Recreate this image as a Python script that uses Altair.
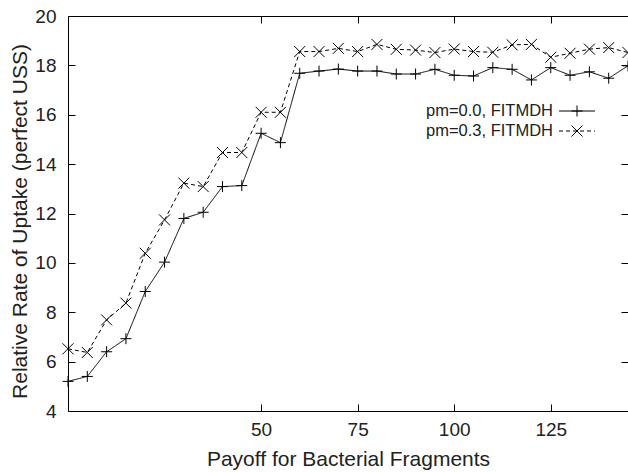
import altair as alt
import pandas as pd

# ---- data ----
payoff = [0, 5, 10, 15, 20, 25, 30, 35, 40, 45, 50, 55, 60, 65, 70, 75, 80, 85, 90, 95,
          100, 105, 110, 115, 120, 125, 130, 135, 140, 145]
pm00 = [5.20, 5.40, 6.40, 6.93, 8.84, 10.03, 11.80, 12.05, 13.09, 13.13, 15.25, 14.87, 17.68, 17.77,
        17.85, 17.77, 17.77, 17.65, 17.65, 17.84, 17.60, 17.57, 17.91, 17.84, 17.41, 17.91, 17.60,
        17.74, 17.48, 17.98]
pm03 = [6.52, 6.37, 7.69, 8.37, 10.39, 11.74, 13.23, 13.09, 14.47, 14.47, 16.10, 16.10, 18.56, 18.56,
        18.69, 18.56, 18.85, 18.65, 18.62, 18.52, 18.66, 18.56, 18.53, 18.83, 18.85, 18.33, 18.49,
        18.66, 18.72, 18.52]
series_names = ["pm=0.0, FITMDH", "pm=0.3, FITMDH"]
x_ticks = [50, 75, 100, 125]
y_ticks = [4, 6, 8, 10, 12, 14, 16, 18, 20]

df = pd.DataFrame({
    "payoff": payoff + payoff,
    "rate": pm00 + pm03,
    "series": [series_names[0]] * len(payoff) + [series_names[1]] * len(payoff),
})

FONT = "Liberation Sans"
TXT = "#222222"
PLUS = "M-1,0L1,0M0,-1L0,1"
CROSS = "M-1,-1L1,1M-1,1L1,-1"

xscale = alt.Scale(domain=[0, 145], nice=False, zero=False)
yscale = alt.Scale(domain=[4, 20], nice=False, zero=False)

common = dict(grid=False, domainColor="black", tickColor="black", labelColor=TXT,
              titleColor=TXT, labelFont=FONT, titleFont=FONT, labelFontSize=19,
              titleFontSize=21, titleFontWeight="normal", tickSize={"expr": "-7"},
              domainWidth=1, tickWidth=1, labelFlush=False, labelOverlap=False)

x_bottom = alt.Axis(values=x_ticks, orient="bottom", title="Payoff for Bacterial Fragments",
                    labelPadding=16, titleY=54, titleBaseline="alphabetic", **common)
y_left = alt.Axis(values=y_ticks, orient="left", title="Relative Rate of Uptake (perfect USS)",
                  labelPadding=19, titleX=-42, titleY=205, titleBaseline="alphabetic",
                  titleAngle=270, **common)
x_top = alt.Axis(values=x_ticks, orient="top", labels=False, title="", **common)
y_right = alt.Axis(values=y_ticks, orient="right", labels=False, title="", domain=False, **common)

dash_scale = alt.Scale(domain=series_names, range=[[1, 0], [4, 3]])
shape_scale = alt.Scale(domain=series_names, range=[PLUS, CROSS])

base = alt.Chart(df)
lines = base.mark_line(color="black", strokeWidth=1).encode(
    x=alt.X("payoff:Q", scale=xscale, axis=x_bottom),
    y=alt.Y("rate:Q", scale=yscale, axis=y_left),
    strokeDash=alt.StrokeDash("series:N", scale=dash_scale, legend=None),
    detail="series:N",
)
points = base.mark_point(filled=False, color="black", strokeWidth=1, size=121, opacity=1).encode(
    x=alt.X("payoff:Q", scale=xscale, axis=x_top),
    y=alt.Y("rate:Q", scale=yscale, axis=y_right),
    shape=alt.Shape("series:N", scale=shape_scale, legend=None),
)

# ---- manual legend (label left, sample right, gnuplot style) ----
leg_layers = []
rows_y = [95, 115]
dashes = [[1, 0], [4, 3]]
shapes = [PLUS, CROSS]
for i, name in enumerate(series_names):
    ldf = pd.DataFrame({"label": [name]})
    lc = alt.Chart(ldf)
    leg_layers.append(lc.mark_text(align="right", baseline="middle", font=FONT, fontSize=16.5,
                                   color=TXT).encode(
        x=alt.value(485), y=alt.value(rows_y[i]), text="label:N"))
    leg_layers.append(lc.mark_rule(color="black", strokeWidth=1, strokeDash=dashes[i]).encode(
        x=alt.value(491), x2=alt.value(527), y=alt.value(rows_y[i])))
    leg_layers.append(lc.mark_point(shape=shapes[i], filled=False, size=121, color="black",
                                    strokeWidth=1, opacity=1).encode(
        x=alt.value(509), y=alt.value(rows_y[i])))

chart = alt.layer(lines, points, *leg_layers).resolve_axis(
    x="independent", y="independent"
).properties(
    width=560, height=395,
    autosize=alt.AutoSizeParams(type="none"),
    padding={"left": 68, "top": 16, "right": 0, "bottom": 61},
).configure_view(stroke="transparent").configure(background="white")

chart.save("out.html", embed_options={"renderer": "svg", "actions": False})
